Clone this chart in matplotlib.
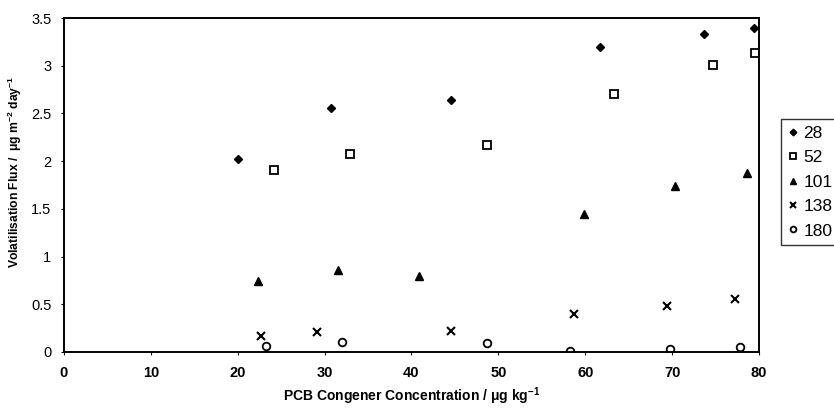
import matplotlib
matplotlib.use('Agg')
import matplotlib.pyplot as plt

plt.rcParams['font.family'] = ['Liberation Sans', 'DejaVu Sans']
plt.rcParams['mathtext.fontset'] = 'custom'
plt.rcParams['mathtext.rm'] = 'Liberation Sans:bold'
plt.rcParams['mathtext.bf'] = 'Liberation Sans:bold'
plt.rcParams['mathtext.it'] = 'Liberation Sans:bold'

# PCB congener data: concentration (ug/kg) vs volatilisation flux
x_28 = [20.0, 30.7, 44.5, 61.7, 73.7, 79.4]
y_28 = [2.02, 2.56, 2.64, 3.20, 3.33, 3.40]

x_52 = [24.2, 32.9, 48.7, 63.3, 74.7, 79.6]
y_52 = [1.91, 2.07, 2.17, 2.70, 3.01, 3.13]

x_101 = [22.3, 31.5, 40.9, 59.9, 70.3, 78.6]
y_101 = [0.74, 0.86, 0.80, 1.45, 1.74, 1.88]

x_138 = [22.7, 29.1, 44.6, 58.7, 69.4, 77.2]
y_138 = [0.17, 0.21, 0.22, 0.40, 0.48, 0.55]

x_180 = [23.3, 32.0, 48.7, 58.3, 69.8, 77.8]
y_180 = [0.06, 0.10, 0.09, 0.01, 0.03, 0.05]

labels = ['28', '52', '101', '138', '180']

fig = plt.figure(figsize=(8.34, 4.11), dpi=100)
ax = fig.add_axes([0.0767, 0.1436, 0.8333, 0.8126])

ax.plot(x_28, y_28, 'D', color='black', ms=4.5, label=labels[0])
ax.plot(x_52, y_52, 's', mfc='white', mec='black', mew=1.3, ms=5.5, label=labels[1])
ax.plot(x_101, y_101, '^', color='black', ms=6, label=labels[2])
ax.plot(x_138, y_138, 'x', color='black', mew=1.5, ms=5.5, label=labels[3])
ax.plot(x_180, y_180, 'o', mfc='white', mec='black', mew=1.3, ms=5.5, label=labels[4])

ax.set_xlim(0, 80)
ax.set_ylim(0, 3.5)
ax.set_xticks(range(0, 81, 10))
ax.set_yticks([0, 0.5, 1, 1.5, 2, 2.5, 3, 3.5])
ax.set_yticklabels(['0', '0.5', '1', '1.5', '2', '2.5', '3', '3.5'])
ax.tick_params(direction='out', length=2, width=0.8, labelsize=10.5)
ax.tick_params(axis='x', pad=8)
ax.tick_params(axis='y', pad=7)
for lab in ax.get_xticklabels():
    lab.set_fontweight('bold')
for side in ['top', 'right', 'bottom', 'left']:
    ax.spines[side].set_linewidth(1.4)

ax.set_xlabel('PCB Congener Concentration / μg kg$^{-1}$', fontsize=10,
              fontweight='bold')
ax.xaxis.set_label_coords(0.5, -0.10)
ax.set_ylabel('Volatilisation Flux /  μg m$^{-2}$ day$^{-1}$', fontsize=8.7,
              fontweight='bold')
ax.yaxis.set_label_coords(-0.057, 0.54)

leg = ax.legend(loc='upper left',
                bbox_to_anchor=(781 / 834, 1 - 253 / 411, 0.12, 134 / 411),
                bbox_transform=fig.transFigure, mode='expand', frameon=True,
                fancybox=False, edgecolor='black', handlelength=0.6,
                handletextpad=0.3, labelspacing=0.53, borderpad=0.4,
                fontsize=12.5, markerscale=0.75, borderaxespad=0)
leg.get_frame().set_linewidth(1.0)

fig.savefig('out.png', dpi=100)
